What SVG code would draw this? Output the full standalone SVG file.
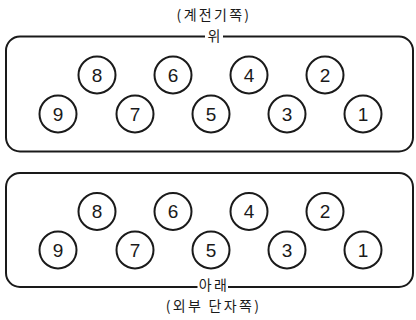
<svg xmlns="http://www.w3.org/2000/svg" width="416" height="320" viewBox="0 0 416 320">
<style>
.box{fill:none;stroke:#1a1a1a;stroke-width:2}
.pin{fill:#fff;stroke:#1a1a1a;stroke-width:2}
.num{font-family:"Liberation Sans",Arial,sans-serif;font-size:19px;fill:#1a1a1a;text-anchor:middle;dominant-baseline:central}
.lbl{font-family:"Noto Sans CJK KR","Liberation Sans",sans-serif;font-size:14px;letter-spacing:2.3px;fill:#1a1a1a;text-anchor:middle}
.gap{fill:#fff;stroke:none}
</style>
<rect width="416" height="320" fill="#fff"/>
<g id="top">
<rect class="box" x="6" y="36.5" width="407" height="115" rx="14"/>
<rect class="gap" x="205" y="30" width="18" height="12"/>
<text class="lbl" x="214" y="19.5">(계전기쪽)</text>
<text class="lbl" x="215" y="41">위</text>
<g id="t8"><circle class="pin" cx="97" cy="75" r="18.5"/><text class="num" x="97" y="75">8</text></g>
<g id="t6"><circle class="pin" cx="173" cy="75" r="18.5"/><text class="num" x="173" y="75">6</text></g>
<g id="t4"><circle class="pin" cx="249" cy="75" r="18.5"/><text class="num" x="249" y="75">4</text></g>
<g id="t2"><circle class="pin" cx="325" cy="75" r="18.5"/><text class="num" x="325" y="75">2</text></g>
<g id="t9"><circle class="pin" cx="58" cy="114" r="18.5"/><text class="num" x="58" y="114">9</text></g>
<g id="t7"><circle class="pin" cx="135" cy="114" r="18.5"/><text class="num" x="135" y="114">7</text></g>
<g id="t5"><circle class="pin" cx="211" cy="114" r="18.5"/><text class="num" x="211" y="114">5</text></g>
<g id="t3"><circle class="pin" cx="287" cy="114" r="18.5"/><text class="num" x="287" y="114">3</text></g>
<g id="t1"><circle class="pin" cx="363" cy="114" r="18.5"/><text class="num" x="363" y="114">1</text></g>
</g>
<g id="bottom">
<rect class="box" x="6" y="173" width="407" height="114" rx="14"/>
<rect class="gap" x="197.5" y="281" width="30.5" height="12"/>
<text class="lbl" x="214" y="290">아래</text>
<text class="lbl" x="213.5" y="311">(외부 단자쪽)</text>
<g id="b8"><circle class="pin" cx="97" cy="211.5" r="18.5"/><text class="num" x="97" y="211.5">8</text></g>
<g id="b6"><circle class="pin" cx="173" cy="211.5" r="18.5"/><text class="num" x="173" y="211.5">6</text></g>
<g id="b4"><circle class="pin" cx="249" cy="211.5" r="18.5"/><text class="num" x="249" y="211.5">4</text></g>
<g id="b2"><circle class="pin" cx="325" cy="211.5" r="18.5"/><text class="num" x="325" y="211.5">2</text></g>
<g id="b9"><circle class="pin" cx="58" cy="250" r="18.5"/><text class="num" x="58" y="250">9</text></g>
<g id="b7"><circle class="pin" cx="135" cy="250" r="18.5"/><text class="num" x="135" y="250">7</text></g>
<g id="b5"><circle class="pin" cx="211" cy="250" r="18.5"/><text class="num" x="211" y="250">5</text></g>
<g id="b3"><circle class="pin" cx="287" cy="250" r="18.5"/><text class="num" x="287" y="250">3</text></g>
<g id="b1"><circle class="pin" cx="363" cy="250" r="18.5"/><text class="num" x="363" y="250">1</text></g>
</g>
<g id="connectors"></g>
</svg>
